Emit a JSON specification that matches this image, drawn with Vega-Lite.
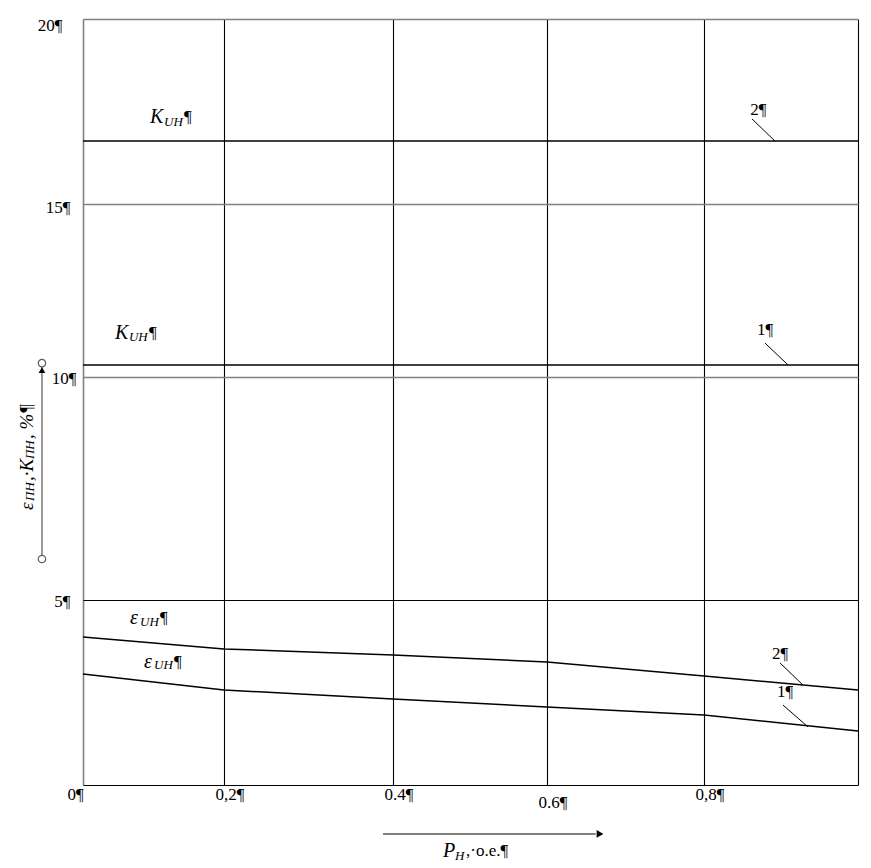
{
  "$schema": "https://vega.github.io/schema/vega-lite/v6.json",
  "width": 775,
  "height": 766,
  "autosize": {"type": "none"},
  "padding": {"left": 83, "top": 19, "right": 13, "bottom": 83},
  "background": "white",
  "config": {"view": {"stroke": null}},
  "datasets": {
    "curves": [
      {"series": "eps2", "x": 0, "y": 4.0},
      {"series": "eps2", "x": 0.2, "y": 3.676},
      {"series": "eps2", "x": 0.4, "y": 3.514},
      {"series": "eps2", "x": 0.6, "y": 3.324},
      {"series": "eps2", "x": 0.8, "y": 2.946},
      {"series": "eps2", "x": 1.0, "y": 2.568},
      {"series": "eps1", "x": 0, "y": 3.0},
      {"series": "eps1", "x": 0.2, "y": 2.568},
      {"series": "eps1", "x": 0.4, "y": 2.324},
      {"series": "eps1", "x": 0.6, "y": 2.108},
      {"series": "eps1", "x": 0.8, "y": 1.892},
      {"series": "eps1", "x": 1.0, "y": 1.459},
      {"series": "K2", "x": 0, "y": 16.7},
      {"series": "K2", "x": 1.0, "y": 16.7},
      {"series": "K1", "x": 0, "y": 10.35},
      {"series": "K1", "x": 1.0, "y": 10.35}
    ],
    "leaders": [
      {"x": 0.8623, "y": 17.30, "x2": 0.8922, "y2": 16.70},
      {"x": 0.8792, "y": 10.98, "x2": 0.9091, "y2": 10.35},
      {"x": 0.8987, "y": 3.30, "x2": 0.9286, "y2": 2.70},
      {"x": 0.9026, "y": 2.16, "x2": 0.9351, "y2": 1.57}
    ],
    "mainText": [
      {"x": 0.0950, "y": 17.35, "t": "K"},
      {"x": 0.0454, "y": 11.27, "t": "K"},
      {"x": 0.0667, "y": 4.51, "t": "ε"},
      {"x": 0.0865, "y": 3.32, "t": "ε"},
      {"x": 0.4649, "y": -1.784, "t": "P"}
    ],
    "subText": [
      {"x": 0.1149, "y": 17.22, "t": "UH"},
      {"x": 0.0652, "y": 11.16, "t": "UH"},
      {"x": 0.0809, "y": 4.41, "t": "UH"},
      {"x": 0.1007, "y": 3.24, "t": "UH"},
      {"x": 0.4805, "y": -1.919, "t": "H"}
    ],
    "plainText": [
      {"x": 0.1433, "y": 17.35, "t": "¶"},
      {"x": 0.0936, "y": 11.27, "t": "¶"},
      {"x": 0.1092, "y": 4.51, "t": "¶"},
      {"x": 0.1291, "y": 3.32, "t": "¶"},
      {"x": 0.860, "y": 17.54, "t": "2¶"},
      {"x": 0.8688, "y": 11.36, "t": "1¶"},
      {"x": 0.8883, "y": 3.54, "t": "2¶"},
      {"x": 0.8948, "y": 2.51, "t": "1¶"},
      {"x": 0.4948, "y": -1.784, "t": ",·o.e.¶"}
    ],
    "yTitleMain": [
      {"x": -0.0794, "y": 7.018, "t": "ε"},
      {"x": -0.0794, "y": 7.668, "t": ",·K"},
      {"x": -0.0794, "y": 8.610, "t": ", %¶"}
    ],
    "yTitleSub": [
      {"x": -0.0752, "y": 7.220, "t": "ПН"},
      {"x": -0.0752, "y": 8.161, "t": "ПН"}
    ],
    "yArrowLine": [
      {"x": -0.0582, "y": 10.40, "x2": -0.0582, "y2": 5.919}
    ],
    "yArrowEnds": [
      {"x": -0.0582, "y": 10.40},
      {"x": -0.0582, "y": 5.919}
    ],
    "yArrowHead": [
      {"x": -0.0582, "y": 10.20}
    ],
    "xArrowLine": [
      {"x": 0.3882, "y": -1.324, "x2": 0.662, "y2": -1.324}
    ],
    "xArrowHead": [
      {"x": 0.6675, "y": -1.324}
    ]
  },
  "layer": [
    {
      "data": {"name": "curves"},
      "mark": {"type": "line", "color": "black", "strokeWidth": 1.5},
      "encoding": {
        "x": {
          "field": "x", "type": "quantitative",
          "scale": {"type": "linear", "domain": [0, 0.2, 0.4, 0.6, 0.8, 1], "range": [0, 141, 310, 464, 621, 775], "nice": false, "zero": false},
          "axis": {
            "title": null,
            "values": [0, 0.2, 0.4, 0.6, 0.8, 1],
            "grid": true,
            "gridColor": {"condition": {"test": "datum.value == 0", "value": "#808080"}, "value": "black"},
            "gridWidth": {"condition": {"test": "datum.value == 0", "value": 1.6}, "value": 1.1},
            "gridOpacity": 1,
            "domain": false,
            "ticks": false,
            "labelExpr": "datum.value == 0 ? '0¶' : datum.value == 0.2 ? '0,2¶' : datum.value == 0.4 ? '0.4¶' : datum.value == 0.6 ? '0.6¶' : datum.value == 0.8 ? '0,8¶' : ''",
            "labelAlign": "left",
            "labelBaseline": "top",
            "labelOffset": {"condition": {"test": "datum.value == 0", "value": -16}, "value": -9},
            "labelPadding": {"condition": {"test": "datum.value == 0.6", "value": 9}, "value": 1},
            "labelFont": "Liberation Serif",
            "labelFontSize": 17,
            "labelColor": "black",
            "labelFlush": false,
            "labelOverlap": false,
            "labelBound": false
          }
        },
        "y": {
          "field": "y", "type": "quantitative",
          "scale": {"type": "linear", "domain": [0, 5, 10, 15, 20], "range": [766, 581, 358, 185, 0], "nice": false, "zero": false},
          "axis": {
            "title": null,
            "values": [0, 5, 10, 15, 20],
            "grid": true,
            "gridColor": {"condition": {"test": "datum.value >= 10", "value": "#808080"}, "value": "black"},
            "gridWidth": {"condition": {"test": "datum.value >= 10", "value": 1.6}, "value": 1.1},
            "gridOpacity": 1,
            "domain": false,
            "ticks": false,
            "labelExpr": "datum.value == 0 ? '' : datum.value + '¶'",
            "labelAlign": "right",
            "labelBaseline": "middle",
            "labelPadding": {"condition": [{"test": "datum.value == 20", "value": 21}, {"test": "datum.value == 10", "value": 7}], "value": 13},
            "labelOffset": {"condition": [{"test": "datum.value == 20", "value": 6}, {"test": "datum.value == 15", "value": 3}], "value": 1},
            "labelFont": "Liberation Serif",
            "labelFontSize": 17,
            "labelColor": "black",
            "labelFlush": false,
            "labelOverlap": false,
            "labelBound": false
          }
        },
        "detail": {"field": "series", "type": "nominal"},
        "strokeWidth": {
          "field": "series", "type": "nominal",
          "scale": {"domain": ["eps1", "eps2", "K1", "K2"], "range": [1.5, 1.5, 2, 2]},
          "legend": null
        }
      }
    },
    {
      "data": {"name": "leaders"},
      "mark": {"type": "rule", "color": "black", "strokeWidth": 1},
      "encoding": {
        "x": {"field": "x", "type": "quantitative"},
        "y": {"field": "y", "type": "quantitative"},
        "x2": {"field": "x2"},
        "y2": {"field": "y2"}
      }
    },
    {
      "data": {"name": "mainText"},
      "mark": {"type": "text", "font": "Liberation Serif", "fontStyle": "italic", "fontSize": 20, "align": "left", "baseline": "middle", "color": "black"},
      "encoding": {
        "x": {"field": "x", "type": "quantitative"},
        "y": {"field": "y", "type": "quantitative"},
        "text": {"field": "t"}
      }
    },
    {
      "data": {"name": "subText"},
      "mark": {"type": "text", "font": "Liberation Serif", "fontStyle": "italic", "fontSize": 13, "align": "left", "baseline": "middle", "color": "black"},
      "encoding": {
        "x": {"field": "x", "type": "quantitative"},
        "y": {"field": "y", "type": "quantitative"},
        "text": {"field": "t"}
      }
    },
    {
      "data": {"name": "plainText"},
      "mark": {"type": "text", "font": "Liberation Serif", "fontSize": 17, "align": "left", "baseline": "middle", "color": "black"},
      "encoding": {
        "x": {"field": "x", "type": "quantitative"},
        "y": {"field": "y", "type": "quantitative"},
        "text": {"field": "t"}
      }
    },
    {
      "data": {"name": "yTitleMain"},
      "mark": {"type": "text", "font": "Liberation Serif", "fontStyle": "italic", "fontSize": 19, "align": "left", "baseline": "middle", "angle": 270, "color": "black"},
      "encoding": {
        "x": {"field": "x", "type": "quantitative"},
        "y": {"field": "y", "type": "quantitative"},
        "text": {"field": "t"}
      }
    },
    {
      "data": {"name": "yTitleSub"},
      "mark": {"type": "text", "font": "Liberation Serif", "fontStyle": "italic", "fontSize": 13, "align": "left", "baseline": "middle", "angle": 270, "color": "black"},
      "encoding": {
        "x": {"field": "x", "type": "quantitative"},
        "y": {"field": "y", "type": "quantitative"},
        "text": {"field": "t"}
      }
    },
    {
      "data": {"name": "yArrowLine"},
      "mark": {"type": "rule", "color": "#808080", "strokeWidth": 1.6},
      "encoding": {
        "x": {"field": "x", "type": "quantitative"},
        "y": {"field": "y", "type": "quantitative"},
        "x2": {"field": "x2"},
        "y2": {"field": "y2"}
      }
    },
    {
      "data": {"name": "yArrowEnds"},
      "mark": {"type": "point", "shape": "circle", "size": 55, "filled": true, "fill": "white", "stroke": "#606060", "strokeWidth": 1.2, "opacity": 1},
      "encoding": {
        "x": {"field": "x", "type": "quantitative"},
        "y": {"field": "y", "type": "quantitative"}
      }
    },
    {
      "data": {"name": "yArrowHead"},
      "mark": {"type": "point", "shape": "triangle-up", "size": 45, "filled": true, "color": "black", "opacity": 1},
      "encoding": {
        "x": {"field": "x", "type": "quantitative"},
        "y": {"field": "y", "type": "quantitative"}
      }
    },
    {
      "data": {"name": "xArrowLine"},
      "mark": {"type": "rule", "color": "black", "strokeWidth": 1.2},
      "encoding": {
        "x": {"field": "x", "type": "quantitative"},
        "y": {"field": "y", "type": "quantitative"},
        "x2": {"field": "x2"},
        "y2": {"field": "y2"}
      }
    },
    {
      "data": {"name": "xArrowHead"},
      "mark": {"type": "point", "shape": "triangle-right", "size": 60, "filled": true, "color": "black", "opacity": 1},
      "encoding": {
        "x": {"field": "x", "type": "quantitative"},
        "y": {"field": "y", "type": "quantitative"}
      }
    }
  ]
}
